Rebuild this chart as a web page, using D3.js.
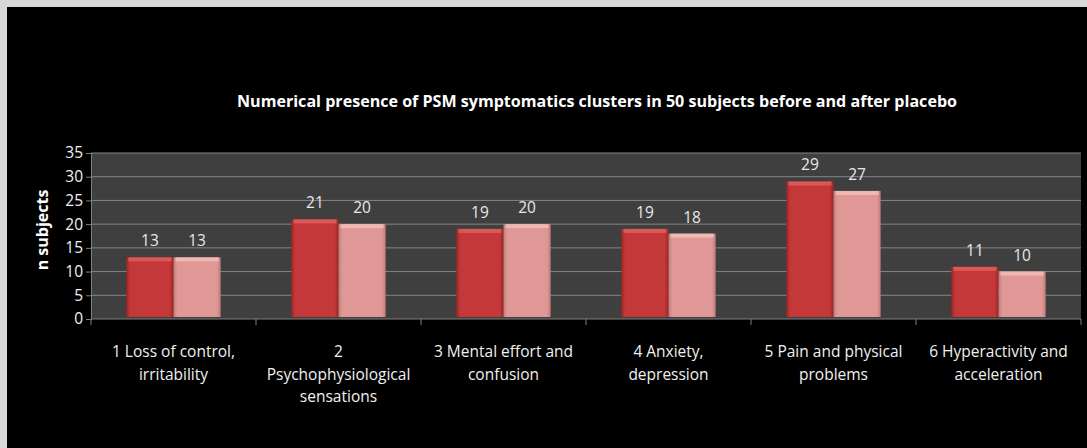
<!DOCTYPE html>
<html>
<head>
<meta charset="utf-8">
<script src="https://cdn.jsdelivr.net/npm/d3@7"></script>
<style>
  html, body { margin: 0; padding: 0; background: #d8d8d8; }
  svg { display: block; }
</style>
</head>
<body>
<div id="chart"></div>
<script>
const categories = [
    ["1 Loss of control,", "irritability"],
    ["2", "Psychophysiological", "sensations"],
    ["3 Mental effort and", "confusion"],
    ["4 Anxiety,", "depression"],
    ["5 Pain and physical", "problems"],
    ["6 Hyperactivity and", "acceleration"]
];
const beforeValues = [13, 21, 19, 19, 29, 11];
const afterValues = [13, 20, 20, 18, 27, 10];
const yTicks = [0, 5, 10, 15, 20, 25, 30, 35];
const title = "Numerical presence of PSM symptomatics clusters in 50 subjects before and after placebo";

const width = 1087, height = 448;
const plot = { left: 91, right: 1081, top: 153, bottom: 319 };
const font = "'Open Sans', 'Noto Sans', sans-serif";

const svg = d3.select("#chart")
    .append("svg")
    .attr("width", width)
    .attr("height", height);

svg.append("rect")
    .attr("x", 7).attr("y", 7)
    .attr("width", width - 7).attr("height", height - 7)
    .attr("fill", "#000");

const defs = svg.append("defs");
function barGradient(id, edge, mid) {
    const g = defs.append("linearGradient")
        .attr("id", id)
        .attr("x1", "0%").attr("y1", "0%")
        .attr("x2", "100%").attr("y2", "0%");
    g.append("stop").attr("offset", "0%").attr("stop-color", edge);
    g.append("stop").attr("offset", "8%").attr("stop-color", mid);
    g.append("stop").attr("offset", "92%").attr("stop-color", mid);
    g.append("stop").attr("offset", "100%").attr("stop-color", edge);
}
barGradient("grad-before", "#9c2422", "#c4383a");
barGradient("grad-after", "#c07c7a", "#e09896");

const x = d3.scaleBand()
    .domain(d3.range(categories.length))
    .range([plot.left, plot.right]);

const xInner = d3.scaleBand()
    .domain(["before", "after"])
    .range([0, x.bandwidth()])
    .paddingOuter(0.75);

const y = d3.scaleLinear()
    .domain([0, 35])
    .range([plot.bottom, plot.top]);

// plot background
svg.append("rect")
    .attr("x", plot.left).attr("y", plot.top)
    .attr("width", plot.right - plot.left)
    .attr("height", plot.bottom - plot.top)
    .attr("fill", "#3f3f3f");

// y axis with gridlines
const yAxis = svg.append("g")
    .attr("transform", `translate(${plot.left},0)`)
    .call(d3.axisLeft(y).tickValues(yTicks).tickSize(5).tickPadding(3));
yAxis.select(".domain").attr("stroke", "#808080");
yAxis.selectAll(".tick line").attr("stroke", "#808080");
yAxis.selectAll(".tick text")
    .attr("fill", "#f0f0f0")
    .style("font-family", font)
    .style("font-size", "15.5px");

svg.append("g")
    .selectAll("line")
    .data(yTicks.filter(d => d > 0))
    .join("line")
    .attr("x1", plot.left).attr("x2", plot.right)
    .attr("y1", d => y(d)).attr("y2", d => y(d))
    .attr("stroke", "#858585")
    .attr("stroke-width", 1);

// bars
const series = [
    { key: "before", values: beforeValues, fill: "url(#grad-before)", top: "#e0625e" },
    { key: "after", values: afterValues, fill: "url(#grad-after)", top: "#f2c0bc" }
];

series.forEach(s => {
    const g = svg.append("g");
    g.selectAll("rect.bar")
        .data(s.values)
        .join("rect")
        .attr("class", "bar")
        .attr("x", (d, i) => x(i) + xInner(s.key))
        .attr("y", d => y(d))
        .attr("width", xInner.bandwidth())
        .attr("height", d => plot.bottom - 2 - y(d))
        .attr("fill", s.fill);
    g.selectAll("rect.bevel")
        .data(s.values)
        .join("rect")
        .attr("class", "bevel")
        .attr("x", (d, i) => x(i) + xInner(s.key) + 2)
        .attr("y", d => y(d))
        .attr("width", xInner.bandwidth() - 4)
        .attr("height", 4)
        .attr("fill", s.top)
        .attr("opacity", 0.8);
    g.selectAll("text")
        .data(s.values)
        .join("text")
        .attr("x", (d, i) => x(i) + xInner(s.key) + xInner.bandwidth() / 2)
        .attr("y", d => y(d) - 11)
        .attr("text-anchor", "middle")
        .attr("fill", "#e8e8e8")
        .style("font-family", font)
        .style("font-size", "15.5px")
        .text(d => d);
});

// x axis
const xAxis = svg.append("g")
    .attr("transform", `translate(0,${plot.bottom})`);
xAxis.append("line")
    .attr("x1", plot.left).attr("x2", plot.right)
    .attr("stroke", "#808080");
xAxis.selectAll("line.tick")
    .data(d3.range(categories.length + 1))
    .join("line")
    .attr("class", "tick")
    .attr("x1", d => d < categories.length ? x(d) : plot.right)
    .attr("x2", d => d < categories.length ? x(d) : plot.right)
    .attr("y1", 0).attr("y2", 6)
    .attr("stroke", "#808080");

xAxis.selectAll("text")
    .data(categories)
    .join("text")
    .attr("text-anchor", "middle")
    .attr("fill", "#f0f0f0")
    .style("font-family", font)
    .style("font-size", "15.5px")
    .each(function(lines, i) {
        d3.select(this).selectAll("tspan")
            .data(lines)
            .join("tspan")
            .attr("x", x(i) + x.bandwidth() / 2)
            .attr("y", (d, j) => 38 + j * 22.5)
            .text(d => d);
    });

// y label
svg.append("text")
    .attr("transform", `translate(48,${(plot.top + plot.bottom) / 2 - 6}) rotate(-90)`)
    .attr("text-anchor", "middle")
    .attr("fill", "#fff")
    .style("font-family", font)
    .style("font-size", "16px")
    .style("font-weight", "bold")
    .text("n subjects");

// title
svg.append("text")
    .attr("x", 597)
    .attr("y", 107)
    .attr("text-anchor", "middle")
    .attr("fill", "#fff")
    .attr("textLength", 720)
    .attr("lengthAdjust", "spacingAndGlyphs")
    .style("font-family", font)
    .style("font-size", "16px")
    .style("font-weight", "bold")
    .text(title);
</script>
</body>
</html>
